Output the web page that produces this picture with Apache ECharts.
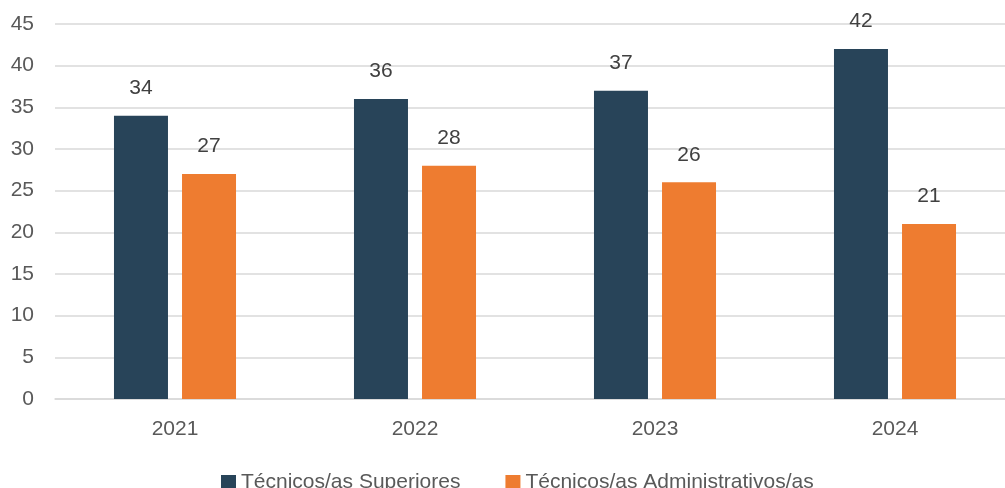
<!DOCTYPE html>
<html><head><meta charset="utf-8">
<script src="https://cdn.jsdelivr.net/npm/echarts@6/dist/echarts.min.js"></script>
<style>html,body{margin:0;padding:0;background:#fff;overflow:hidden;width:1005px;height:488px}#c{width:1015px;height:488px}</style>
</head><body><div id="c"></div>
<script>
const categories = ['2021', '2022', '2023', '2024'];
const seriesNames = ['Técnicos/as Superiores', 'Técnicos/as Administrativos/as'];
const superiores = [34, 36, 37, 42];
const administrativos = [27, 28, 26, 21];
const yTicks = { min: 0, max: 45, interval: 5 };

const chart = echarts.init(document.getElementById('c'), null, { renderer: 'canvas' });
const font = 'Liberation Sans, Arial, sans-serif';
const labelCfg = { show: true, position: 'top', distance: 17, color: '#404040', fontSize: 21, fontFamily: font };
chart.setOption({
  animation: false,
  grid: { left: 55, top: 24, right: 0, bottom: 89, containLabel: false },
  legend: {
    bottom: -10, left: 216, itemWidth: 15, itemHeight: 15, itemGap: 45, icon: 'rect',
    textStyle: { color: '#595959', fontSize: 21, fontFamily: font },
    data: seriesNames
  },
  xAxis: {
    type: 'category', data: categories,
    axisLine: { lineStyle: { color: '#d9d9d9', width: 1.5 } },
    axisTick: { show: false },
    axisLabel: { color: '#595959', fontSize: 21, fontFamily: font, margin: 20 }
  },
  yAxis: {
    type: 'value', min: yTicks.min, max: yTicks.max, interval: yTicks.interval,
    axisLine: { show: false }, axisTick: { show: false },
    splitLine: { lineStyle: { color: '#d9d9d9', width: 1.5 } },
    axisLabel: { color: '#595959', fontSize: 21, fontFamily: font, margin: 21 }
  },
  series: [
    { name: seriesNames[0], type: 'bar', data: superiores, barWidth: 54, barGap: '26%',
      itemStyle: { color: '#284459' }, label: labelCfg },
    { name: seriesNames[1], type: 'bar', data: administrativos, barWidth: 54, barGap: '26%',
      itemStyle: { color: '#EE7C30' }, label: labelCfg }
  ]
});
</script></body></html>
